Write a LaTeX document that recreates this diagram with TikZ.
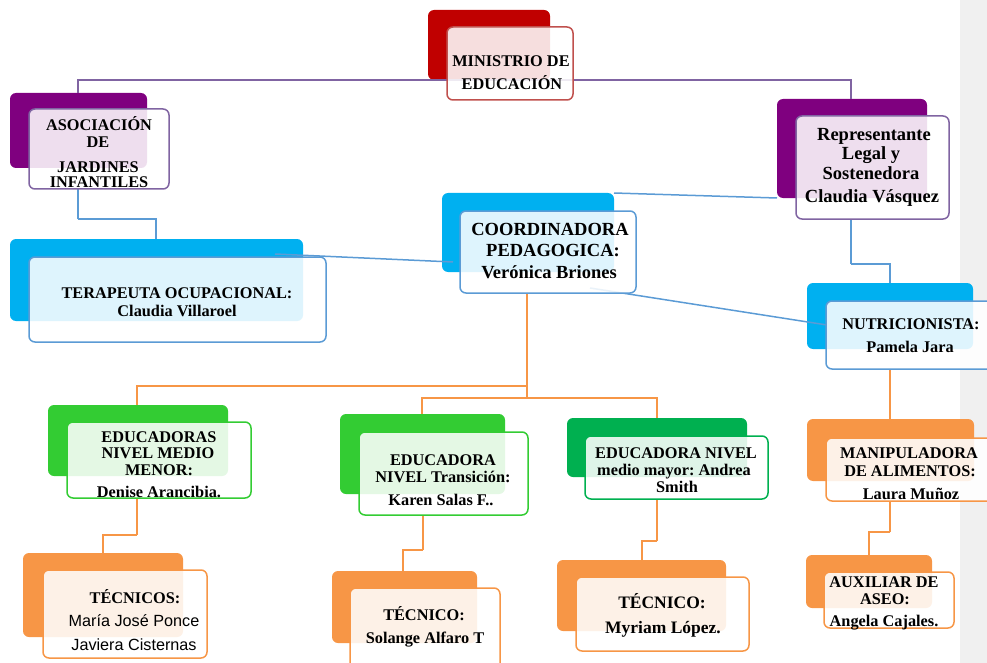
\documentclass[tikz,border=0pt]{standalone}
\usepackage{fontspec}
\setmainfont{Liberation Serif}
\newfontfamily\arialf{Liberation Sans}
\frenchspacing
\definecolor{cRed}{HTML}{C00000}
\definecolor{bRed}{HTML}{C0504D}
\definecolor{cPur}{HTML}{7F007F}
\definecolor{bPur}{HTML}{8064A2}
\definecolor{cCyan}{HTML}{00B0F0}
\definecolor{bBlue}{HTML}{5B9BD5}
\definecolor{cGrn}{HTML}{33CC33}
\definecolor{cGrnD}{HTML}{00B050}
\definecolor{cOr}{HTML}{F79646}
\definecolor{cGray}{HTML}{F0F0F0}
\tikzset{
 back/.style={rectangle, rounded corners=6pt, fill=#1, draw=none, anchor=north west, inner sep=0pt, outer sep=0pt},
 front/.style={rectangle, rounded corners=6pt, draw=#1, line width=1.5pt, fill=white, fill opacity=0.87, anchor=north west, inner sep=0pt, outer sep=0pt},
 conn/.style={draw=#1, line width=1.5pt},
 lbl/.style={anchor=base, inner sep=0pt, text=black, font=\bfseries\fontsize{16.3}{19}\selectfont},
 lblL/.style={anchor=base, inner sep=0pt, text=black, font=\bfseries\fontsize{18.5}{21}\selectfont},
 lblM/.style={anchor=base, inner sep=0pt, text=black, font=\bfseries\fontsize{17.5}{20}\selectfont},
 lblS/.style={anchor=base, inner sep=0pt, text=black, font=\arialf\fontsize{16.2}{19}\selectfont},
}
\begin{document}
\begin{tikzpicture}[x=1pt,y=-1pt]
\useasboundingbox (0,0) rectangle (987,663);
\clip (0,0) rectangle (987,663);
\fill[cGray] (960,0) rectangle (987,663);

% back boxes
\node[back=cRed, minimum width=122, minimum height=70] (minB) at (428,10) {};
\node[back=cPur, minimum width=137, minimum height=75] (asoB) at (10,93) {};
\node[back=cCyan, minimum width=293, minimum height=82] (terB) at (10,239) {};
\node[back=cCyan, minimum width=172, minimum height=79] (cooB) at (442,193) {};
\node[back=cPur, minimum width=150, minimum height=99] (repB) at (777,99) {};
\node[back=cCyan, minimum width=166, minimum height=66] (nutB) at (807,283) {};
\node[back=cGrn, minimum width=180, minimum height=71] (eduB) at (48,405) {};
\node[back=cGrn, minimum width=165, minimum height=80] (traB) at (340,414) {};
\node[back=cGrnD, minimum width=180, minimum height=59] (mayB) at (567,418) {};
\node[back=cOr, minimum width=167, minimum height=62] (manB) at (807,419) {};
\node[back=cOr, minimum width=160, minimum height=84] (te1B) at (23,553) {};
\node[back=cOr, minimum width=145, minimum height=72] (te2B) at (332,571) {};
\node[back=cOr, minimum width=169, minimum height=71] (te3B) at (557,560) {};
\node[back=cOr, minimum width=126, minimum height=53] (auxB) at (806,555) {};

% connector coordinates
\coordinate (pL) at (78,80);
\coordinate (pR) at (851,80);
\coordinate (b1) at (78,219);
\coordinate (b2) at (156,219);
\coordinate (r1) at (851,264);
\coordinate (r2) at (890,264);
\coordinate (t1) at (275,254);
\coordinate (t2) at (453,262);
\coordinate (n1) at (590,288);
\coordinate (n2) at (827,325);
\coordinate (oc) at (527,293);
\coordinate (oA) at (137,386);
\coordinate (oB) at (527,386);
\coordinate (oC) at (422,398);
\coordinate (oD) at (657,398);
\coordinate (e1) at (137,535);
\coordinate (e2) at (103,535);
\coordinate (s1) at (423,550);
\coordinate (s2) at (403,550);
\coordinate (m1) at (657,541);
\coordinate (m2) at (642,541);
\coordinate (a1) at (890,532);
\coordinate (a2) at (869,532);

% connectors
\draw[conn=bPur] (asoB.north -| pL) -- (pL) -- (pR) -- (repB.north -| pR);
\draw[conn=bBlue] (b1) -- (b2) -- (terB.north -| b2);
\draw[conn=bBlue] (b1) -- ++(0,-30);
\draw[conn=bBlue] (t1) -- (t2);
\draw[conn=bBlue] (cooB.north east) -- (repB.south west);
\draw[conn=bBlue] (n1) -- (n2);
\draw[conn=bBlue] (r1) -- ++(0,-45);
\draw[conn=bBlue] (r1) -- (r2) -- (nutB.north -| r2);
\draw[conn=cOr] (oc) -- (oD -| oc);
\draw[conn=cOr] (eduB.north -| oA) -- (oA) -- (oB);
\draw[conn=cOr] (traB.north -| oC) -- (oC) -- (oD) -- (mayB.north -| oD);
\draw[conn=cOr] (r2) ++(0,105) -- (manB.north -| r2);
\draw[conn=cOr] (e1) -- ++(0,-37);
\draw[conn=cOr] (e1) -- (e2) -- (te1B.north -| e2);
\draw[conn=cOr] (s1) -- ++(0,-35);
\draw[conn=cOr] (s1) -- (s2) -- (te2B.north -| s2);
\draw[conn=cOr] (m1) -- ++(0,-42);
\draw[conn=cOr] (m1) -- (m2) -- (te3B.north -| m2);
\draw[conn=cOr] (a1) -- ++(0,-31);
\draw[conn=cOr] (a1) -- (a2) -- (auxB.north -| a2);

% front boxes
\node[front=bRed, minimum width=126, minimum height=73] (minF) at (447,27) {};
\node[front=bPur, minimum width=140, minimum height=80] (asoF) at (29,109) {};
\node[front=bBlue, minimum width=297, minimum height=85] (terF) at (29,257) {};
\node[front=bBlue, minimum width=176, minimum height=82] (cooF) at (460,211) {};
\node[front=bPur, minimum width=153, minimum height=103] (repF) at (796,116) {};
\node[front=bBlue, minimum width=174, minimum height=68] (nutF) at (826,301) {};
\node[front=cGrn, minimum width=184, minimum height=76] (eduF) at (67,422) {};
\node[front=cGrn, minimum width=169, minimum height=83] (traF) at (359,432) {};
\node[front=cGrnD, minimum width=183, minimum height=63] (mayF) at (585,436) {};
\node[front=cOr, minimum width=174, minimum height=63] (manF) at (826,438) {};
\node[front=cOr, minimum width=164, minimum height=88] (te1F) at (43,570) {};
\node[front=cOr, minimum width=150, minimum height=84] (te2F) at (350,588) {};
\node[front=cOr, minimum width=173, minimum height=74] (te3F) at (576,577) {};
\node[front=cOr, minimum width=130, minimum height=56] (auxF) at (824,572) {};

% texts
\node[lbl] (minT1) at (511,67) {MINISTRIO DE};
\node[lbl] (minT2) at (512,90) {EDUCACIÓN};

\node[lbl] (asoT1) at (99,131) {ASOCIACIÓN};
\node[lbl] (asoT2) at (98,148) {DE};
\node[lbl] (asoT3) at (98,172) {JARDINES};
\node[lbl] (asoT4) at (99,188) {INFANTILES};

\node[lbl] (terT1) at (177,298) {TERAPEUTA OCUPACIONAL:};
\node[lbl] (terT2) at (177,316) {Claudia Villaroel};

\node[lblL] (cooT1) at (550,235) {COORDINADORA};
\node[lblL] (cooT2) at (553,256) {PEDAGOGICA:};
\node[lblL] (cooT3) at (549,278) {Verónica Briones};

\node[lblL] (repT1) at (874,141) {Representante};
\node[lblL] (repT2) at (871,160) {Legal y};
\node[lblL] (repT3) at (871,179) {Sostenedora};
\node[lblL] (repT4) at (872,203) {Claudia Vásquez};

\node[lbl] (nutT1) at (911,329) {NUTRICIONISTA:};
\node[lbl] (nutT2) at (910,352) {Pamela Jara};

\node[lbl] (eduT1) at (159,442) {EDUCADORAS};
\node[lbl] (eduT2) at (158,458) {NIVEL MEDIO};
\node[lbl] (eduT3) at (159,475) {MENOR:};
\node[lbl] (eduT4) at (159,497) {Denise Arancibia.};

\node[lbl] (traT1) at (443,465) {EDUCADORA};
\node[lbl] (traT2) at (443,482) {NIVEL Transición:};
\node[lbl] (traT3) at (441,505) {Karen Salas F..};

\node[lbl] (mayT1) at (676,458) {EDUCADORA NIVEL};
\node[lbl] (mayT2) at (674,475) {medio mayor: Andrea};
\node[lbl] (mayT3) at (677,492) {Smith};

\node[lbl] (manT1) at (909,458) {MANIPULADORA};
\node[lbl] (manT2) at (910,476) {DE ALIMENTOS:};
\node[lbl] (manT3) at (911,499) {Laura Muñoz};

\node[lbl] (auxT1) at (884,587) {AUXILIAR DE};
\node[lbl] (auxT2) at (885,604) {ASEO:};
\node[lbl] (auxT3) at (884,626) {Angela Cajales.};

\node[lbl] (te1T1) at (135,603) {TÉCNICOS:};
\node[lblS] (te1T2) at (134,626) {María José Ponce};
\node[lblS] (te1T3) at (134,650) {Javiera Cisternas};

\node[lbl] (te2T1) at (424,620) {TÉCNICO:};
\node[lbl] (te2T2) at (425,643) {Solange Alfaro T};

\node[lblM] (te3T1) at (662,608) {TÉCNICO:};
\node[lblM] (te3T2) at (663,633) {Myriam López.};
\end{tikzpicture}
\end{document}
